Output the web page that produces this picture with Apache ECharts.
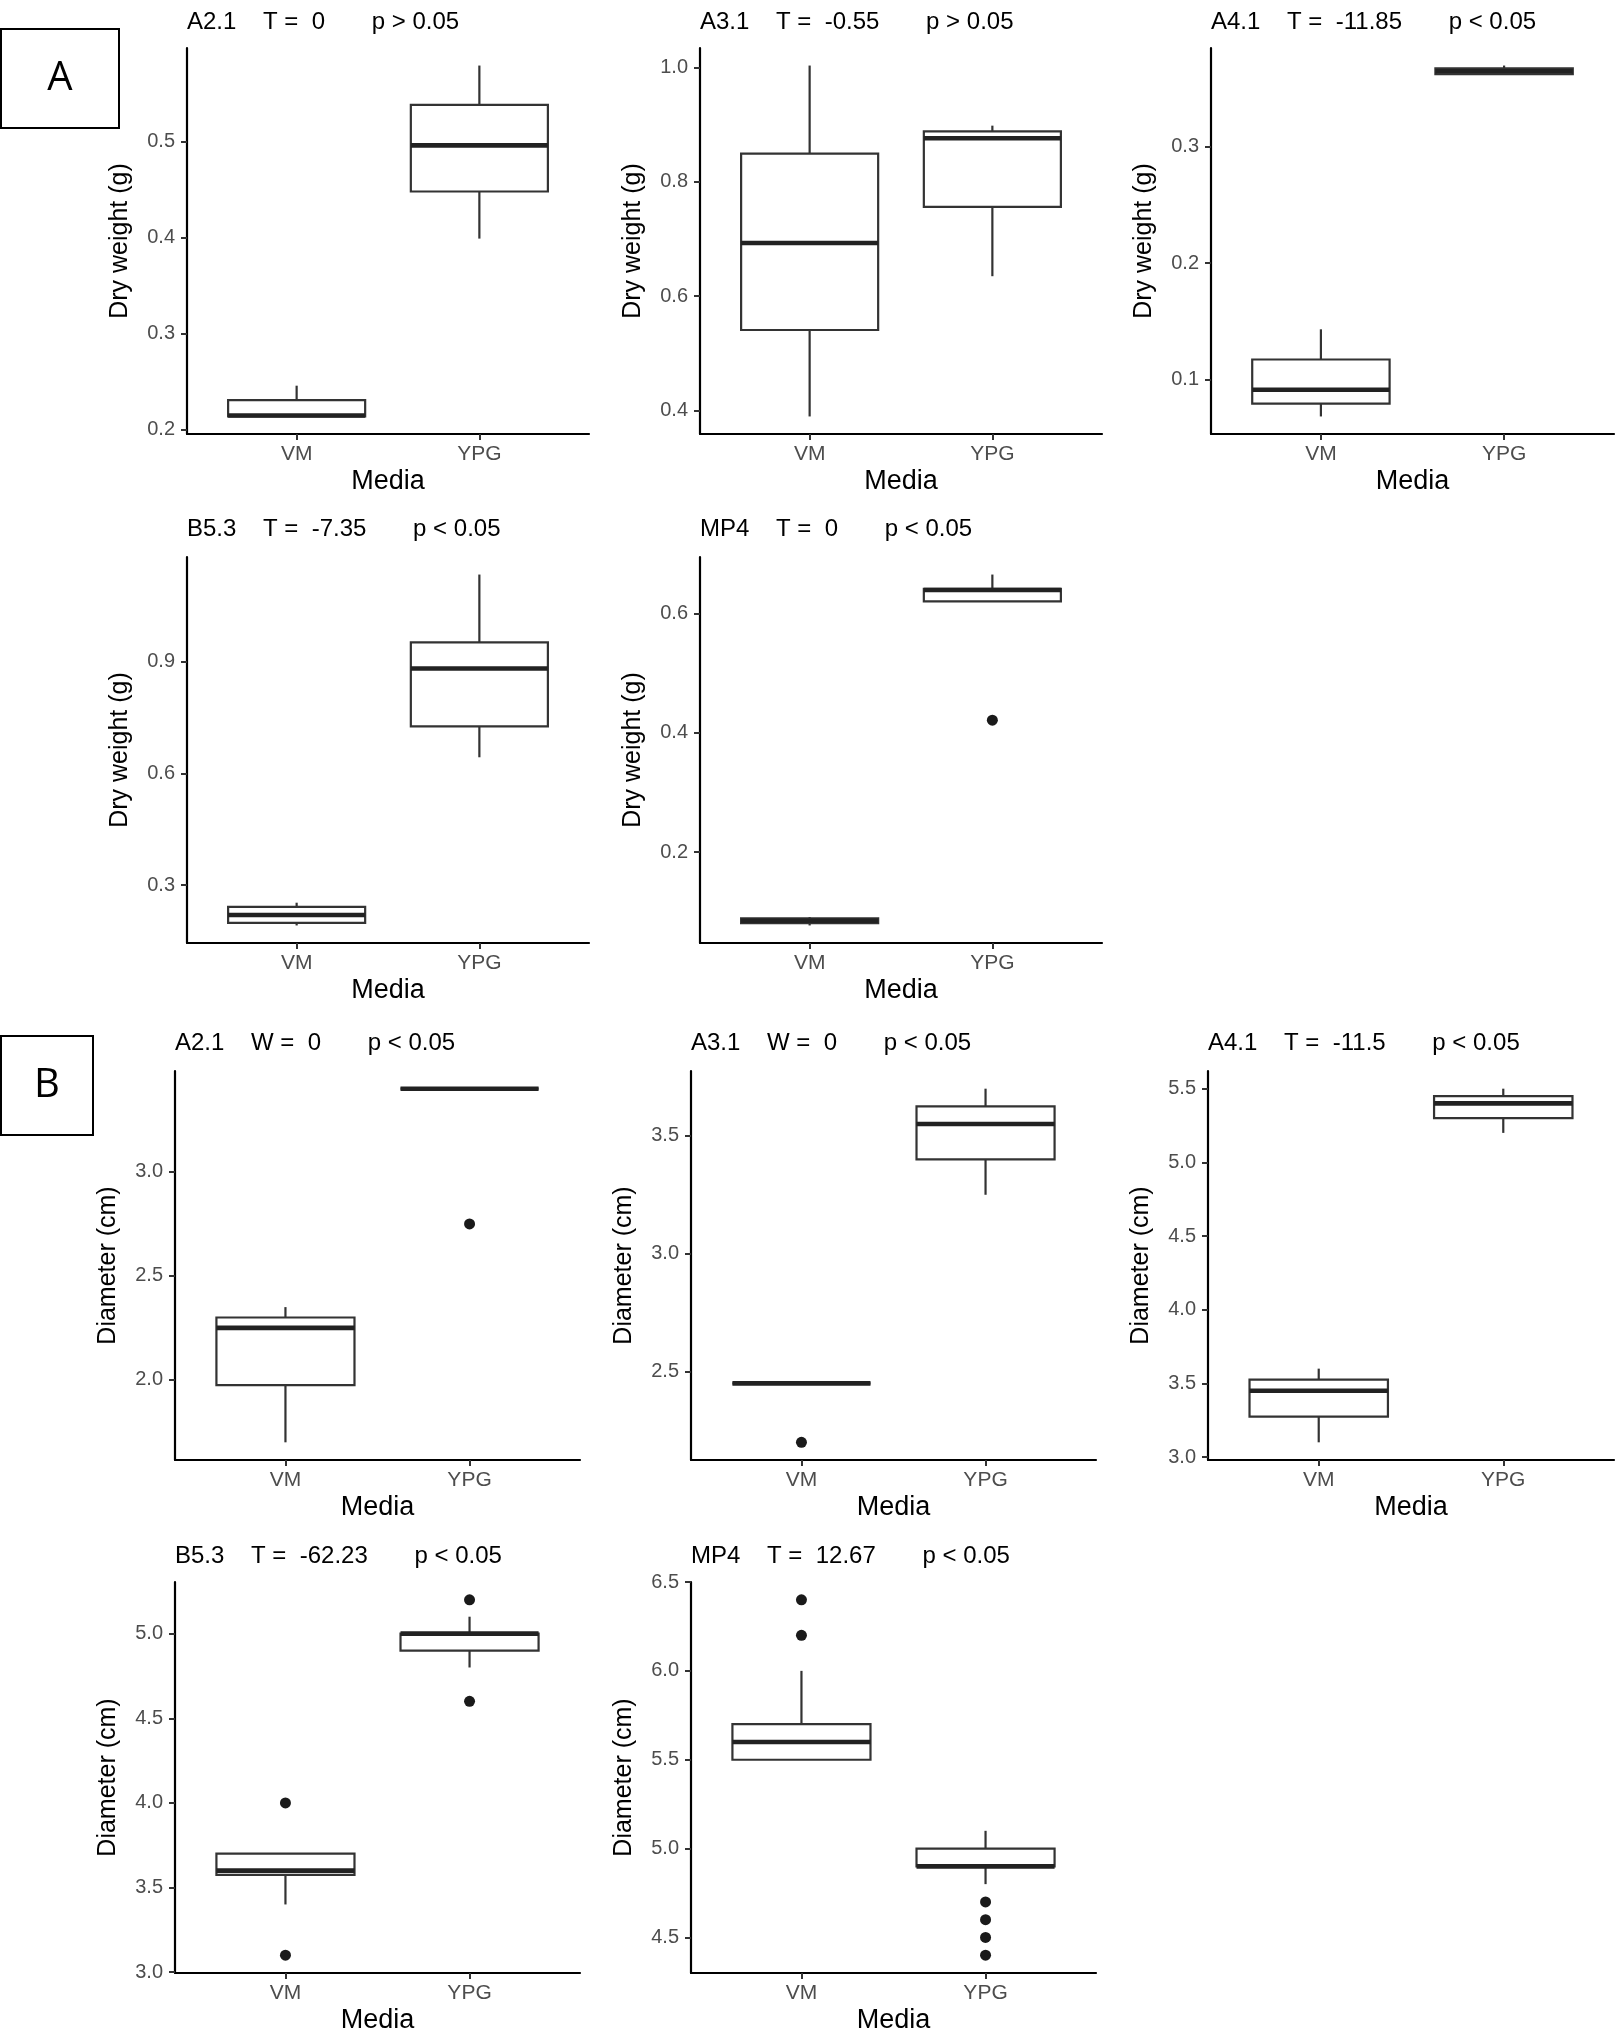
<!DOCTYPE html>
<html>
<head>
<meta charset="utf-8">
<title>Dry weight and diameter by media</title>
<script src="https://cdn.jsdelivr.net/npm/echarts@6.0.0/dist/echarts.min.js"></script>
<style>
html, body { margin: 0; padding: 0; background: #fff; }
#chart { width: 1619px; height: 2034px; }
</style>
</head>
<body>
<div id="chart"></div>
<script>
var media = ['VM', 'YPG'];
var isolates = ['A2.1', 'A3.1', 'A4.1', 'B5.3', 'MP4'];

// A: dry weight (g). boxes are [lower whisker, q1, median, q3, upper whisker]
var dwStat = ['T', 'T', 'T', 'T', 'T'];
var dwStatValue = ['0', '-0.55', '-11.85', '-7.35', '0'];
var dwP = ['p > 0.05', 'p > 0.05', 'p < 0.05', 'p < 0.05', 'p < 0.05'];
var dwVM = [
    [0.214, 0.214, 0.215, 0.231, 0.246],
    [0.39, 0.541, 0.693, 0.849, 1.003],
    [0.068, 0.079, 0.091, 0.117, 0.143],
    [0.192, 0.199, 0.22, 0.242, 0.253],
    [0.077, 0.081, 0.085, 0.089, 0.091]
];
var dwYPG = [
    [0.399, 0.448, 0.496, 0.538, 0.579],
    [0.635, 0.756, 0.876, 0.888, 0.898],
    [0.3625, 0.3625, 0.365, 0.3675, 0.37],
    [0.643, 0.726, 0.881, 0.951, 1.133],
    [0.62, 0.62, 0.639, 0.641, 0.665]
];
var dwOutVM = [[], [], [], [], []];
var dwOutYPG = [[], [], [], [], [0.421]];
var dwTicks = [[0.2, 0.3, 0.4, 0.5], [0.4, 0.6, 0.8, 1.0], [0.1, 0.2, 0.3], [0.3, 0.6, 0.9], [0.2, 0.4, 0.6]];

// B: diameter (cm)
var diamStat = ['W', 'W', 'T', 'T', 'T'];
var diamStatValue = ['0', '0', '-11.5', '-62.23', '12.67'];
var diamP = ['p < 0.05', 'p < 0.05', 'p < 0.05', 'p < 0.05', 'p < 0.05'];
var diamVM = [
    [1.7, 1.975, 2.25, 2.3, 2.35],
    [2.45, 2.45, 2.45, 2.45, 2.45],
    [3.1, 3.275, 3.45, 3.525, 3.6],
    [3.4, 3.575, 3.6, 3.7, 3.7],
    [5.5, 5.5, 5.6, 5.7, 6.0]
];
var diamYPG = [
    [3.4, 3.4, 3.4, 3.4, 3.4],
    [3.25, 3.4, 3.55, 3.625, 3.7],
    [5.2, 5.3, 5.4, 5.45, 5.5],
    [4.8, 4.9, 5.0, 5.0, 5.1],
    [4.8, 4.9, 4.9, 5.0, 5.1]
];
var diamOutVM = [[], [2.2], [], [4.0, 3.1], [6.4, 6.2]];
var diamOutYPG = [[2.75], [], [], [5.2, 4.6], [4.7, 4.6, 4.5, 4.4]];
var diamTicks = [[2.0, 2.5, 3.0], [2.5, 3.0, 3.5], [3.0, 3.5, 4.0, 4.5, 5.0, 5.5], [3.0, 3.5, 4.0, 4.5, 5.0], [4.5, 5.0, 5.5, 6.0, 6.5]];

var FONT = '"Liberation Sans", Arial, Helvetica, sans-serif';
var boxWidth = 0.75;

var sections = [
    {
        label: 'A', yName: 'Dry weight (g)',
        stat: dwStat, statValue: dwStatValue, p: dwP,
        vm: dwVM, ypg: dwYPG, outVM: dwOutVM, outYPG: dwOutYPG, ticks: dwTicks,
        cols: [[187, 402], [700, 402], [1211, 403]],
        rows: [[48, 434, 10], [557, 943, 517]],
        box: [1, 29, 118, 99]
    },
    {
        label: 'B', yName: 'Diameter (cm)',
        stat: diamStat, statValue: diamStatValue, p: diamP,
        vm: diamVM, ypg: diamYPG, outVM: diamOutVM, outYPG: diamOutYPG, ticks: diamTicks,
        cols: [[175, 405], [691, 405], [1208, 406]],
        rows: [[1071, 1460, 1031], [1582, 1973, 1544]],
        box: [1, 1036, 92, 99]
    }
];

function renderBox(params, api) {
    var x = api.value(0);
    var lo = api.value(1), q1 = api.value(2), med = api.value(3), q3 = api.value(4), hi = api.value(5);
    var pTop = api.coord([x - boxWidth / 2, q3]);
    var pBot = api.coord([x + boxWidth / 2, q1]);
    var pMed = api.coord([x, med]);
    var pLo = api.coord([x, lo]);
    var pHi = api.coord([x, hi]);
    var stroke = {stroke: '#333333', lineWidth: 2.2};
    return {
        type: 'group',
        children: [
            {type: 'line', shape: {x1: pHi[0], y1: pHi[1], x2: pHi[0], y2: pTop[1]}, style: stroke},
            {type: 'line', shape: {x1: pLo[0], y1: pBot[1], x2: pLo[0], y2: pLo[1]}, style: stroke},
            {
                type: 'rect',
                shape: {x: pTop[0], y: pTop[1], width: pBot[0] - pTop[0], height: pBot[1] - pTop[1]},
                style: {fill: '#ffffff', stroke: '#333333', lineWidth: 2.2}
            },
            {
                type: 'line',
                shape: {x1: pTop[0], y1: pMed[1], x2: pBot[0], y2: pMed[1]},
                style: {stroke: '#222222', lineWidth: 4.6}
            }
        ]
    };
}

function extentOf(a, b, oa, ob) {
    var all = a.concat(b, oa, ob);
    var lo = Math.min.apply(null, all), hi = Math.max.apply(null, all);
    var pad = (hi - lo) * 0.05;
    return [lo - pad, hi + pad];
}

var grids = [], xAxes = [], yAxes = [], series = [], titles = [], graphics = [];

sections.forEach(function (sec) {
    graphics.push({
        type: 'rect', z: 10,
        shape: {x: sec.box[0], y: sec.box[1], width: sec.box[2], height: sec.box[3]},
        style: {fill: '#ffffff', stroke: '#000000', lineWidth: 2}
    });
    graphics.push({
        type: 'text', z: 11,
        x: sec.box[0] + sec.box[2] / 2, y: sec.box[1] + sec.box[3] / 2,
        style: {
            text: sec.label, fill: '#000000', fontSize: 40, fontFamily: '"Open Sans", sans-serif',
            align: 'center', verticalAlign: 'middle'
        }
    });

    isolates.forEach(function (iso, i) {
        var gi = grids.length;
        var col = sec.cols[i % 3], row = sec.rows[Math.floor(i / 3)];
        var ext = extentOf(sec.vm[i], sec.ypg[i], sec.outVM[i], sec.outYPG[i]);

        grids.push({left: col[0], top: row[0], width: col[1], height: row[1] - row[0], outerBoundsMode: 'none'});

        titles.push({
            text: iso + '    ' + sec.stat[i] + ' =  ' + sec.statValue[i] + '       ' + sec.p[i],
            left: col[0], top: row[2], padding: 0,
            textStyle: {fontSize: 24, fontWeight: 'normal', color: '#000000', fontFamily: FONT}
        });

        xAxes.push({
            gridIndex: gi, type: 'value', min: 0.4, max: 2.6,
            name: 'Media', nameLocation: 'middle', nameGap: 34,
            nameTextStyle: {fontSize: 27, color: '#000000', fontFamily: FONT},
            axisLine: {show: true, onZero: false, lineStyle: {color: '#000000', width: 2.2}},
            axisTick: {show: true, customValues: [1, 2], length: 6, lineStyle: {color: '#333333', width: 2}},
            axisLabel: {
                customValues: [1, 2], margin: 10, fontSize: 21, color: '#4d4d4d', fontFamily: FONT,
                formatter: function (v) { return media[Math.round(v) - 1]; }
            },
            splitLine: {show: false}
        });

        yAxes.push({
            gridIndex: gi, type: 'value', min: ext[0], max: ext[1],
            name: sec.yName, nameLocation: 'middle', nameGap: 54,
            nameTextStyle: {fontSize: 25, color: '#000000', fontFamily: FONT},
            axisLine: {show: true, onZero: false, lineStyle: {color: '#000000', width: 2.2}},
            axisTick: {show: true, customValues: sec.ticks[i], length: 6, lineStyle: {color: '#333333', width: 2}},
            axisLabel: {
                customValues: sec.ticks[i], margin: 12, fontSize: 20, color: '#4d4d4d', fontFamily: FONT,
                formatter: function (v) { return v.toFixed(1); }
            },
            splitLine: {show: false}
        });

        series.push({
            type: 'custom', xAxisIndex: gi, yAxisIndex: gi,
            renderItem: renderBox,
            encode: {x: 0, y: [1, 2, 3, 4, 5]},
            data: [[1].concat(sec.vm[i]), [2].concat(sec.ypg[i])],
            silent: true, z: 2
        });

        var outs = sec.outVM[i].map(function (v) { return [1, v]; })
            .concat(sec.outYPG[i].map(function (v) { return [2, v]; }));
        series.push({
            type: 'scatter', xAxisIndex: gi, yAxisIndex: gi,
            symbolSize: 11, itemStyle: {color: '#1a1a1a', opacity: 1},
            data: outs, silent: true, z: 3
        });
    });
});

var chart = echarts.init(document.getElementById('chart'));
chart.setOption({
    backgroundColor: '#ffffff',
    animation: false,
    title: titles,
    grid: grids,
    xAxis: xAxes,
    yAxis: yAxes,
    series: series,
    graphic: graphics
});
</script>
</body>
</html>
